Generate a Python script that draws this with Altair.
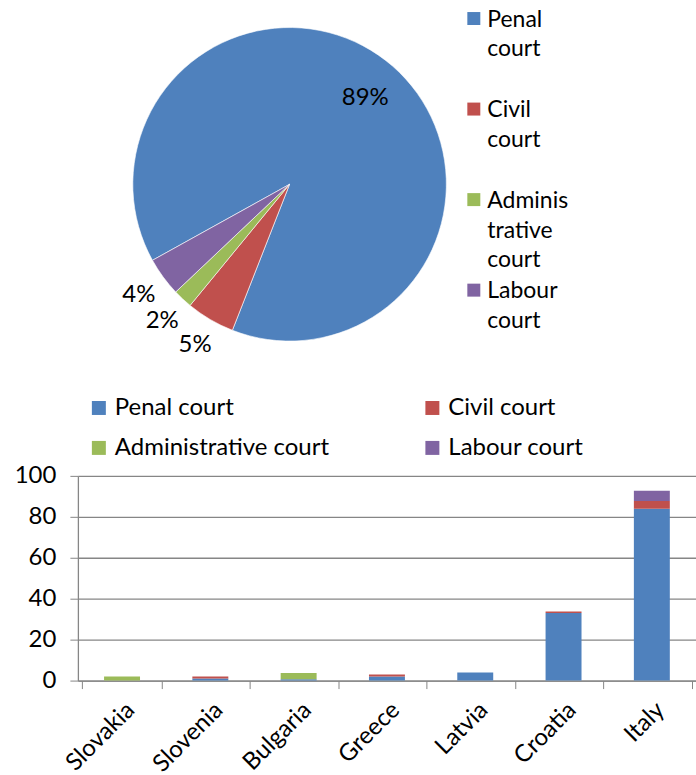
import math
import altair as alt
import pandas as pd

# ---- data ----
categories = ["Penal court", "Civil court", "Administrative court", "Labour court"]
colors = ["#4F81BD", "#C0504D", "#9BBB59", "#8064A2"]
pie_pct = [89, 5, 2, 4]

countries = ["Slovakia", "Slovenia", "Bulgaria", "Greece", "Latvia", "Croatia", "Italy"]
penal = [0, 1, 0.7, 2, 4, 33, 84]
civil = [0, 1, 0, 1, 0, 0.8, 3.7]
admin = [2, 0, 3, 0, 0, 0, 0]
labour = [0, 0, 0, 0, 0, 0, 5]
y_ticks = [0, 20, 40, 60, 80, 100]

FONT = "Lato"
FS = 24
GRAY = "#868686"

pie_df = pd.DataFrame({"court": categories, "pct": pie_pct, "idx": list(range(len(categories)))})
series = [penal, civil, admin, labour]
rows = []
for i, c in enumerate(countries):
    for j, cat in enumerate(categories):
        rows.append({"country": c, "court": cat, "value": series[j][i], "idx": j})
bar_df = pd.DataFrame(rows)

start = math.radians(241)
theta_scale = alt.Scale(range=[start, start + 2 * math.pi])
color_scale = alt.Scale(domain=categories, range=colors)

# ---- pie ----
base = alt.Chart(pie_df).encode(
    theta=alt.Theta("pct:Q", stack=True, scale=theta_scale),
    order=alt.Order("idx:Q", sort="ascending"),
)
arcs = base.mark_arc(outerRadius=157, stroke="white", strokeWidth=0.6).encode(
    color=alt.Color("court:N", scale=color_scale, sort=categories, legend=None)
)
inner_txt = base.transform_calculate(
    t="datum.pct > 50 ? datum.pct + '%' : ''"
).mark_text(radius=115, font=FONT, fontSize=FS, color="black").encode(text="t:N")
outer_txt = base.transform_calculate(
    t="datum.pct > 50 ? '' : datum.pct + '%'"
).mark_text(radius=187, font=FONT, fontSize=FS, color="black").encode(text="t:N")

# pie legend (built from the categories)
leg_y = alt.Y("idx:O", axis=None, scale=alt.Scale(type="point", range=[18, 290], padding=0))
leg_sym = alt.Chart(pie_df).mark_square(size=169, opacity=1).encode(
    x=alt.value(396.5),
    y=leg_y,
    color=alt.Color("court:N", scale=color_scale, sort=categories, legend=None),
)
leg_txt = alt.Chart(pie_df).transform_calculate(
    lines="datum.court == 'Administrative court' ? ['Adminis', 'trative', 'court'] : split(datum.court, ' ')"
).mark_text(
    align="left", baseline="alphabetic", dy=8, lineHeight=30,
    font=FONT, fontSize=FS - 1, color="black"
).encode(x=alt.value(410), y=leg_y, text="lines:N")

pie = alt.layer(arcs, inner_txt, outer_txt, leg_sym, leg_txt).properties(width=424, height=368)

# ---- bars ----
bars = alt.Chart(bar_df).mark_bar(size=36).encode(
    x=alt.X(
        "country:N",
        sort=countries,
        title=None,
        axis=alt.Axis(
            labelAngle=-45,
            labelFont=FONT,
            labelFontSize=FS,
            labelColor="black",
            tickBand="extent",
            tickColor=GRAY,
            tickSize=8,
            domainColor=GRAY,
            domainWidth=1.3,
            labelPadding=9,
        ),
    ),
    y=alt.Y(
        "value:Q",
        stack="zero",
        title=None,
        scale=alt.Scale(domain=[0, 100]),
        axis=alt.Axis(
            values=y_ticks,
            labelFont=FONT,
            labelFontSize=FS,
            labelColor="black",
            tickColor=GRAY,
            tickSize=8,
            domainColor=GRAY,
            domainWidth=1.3,
            gridColor=GRAY,
            gridWidth=1.3,
            labelPadding=14,
        ),
    ),
    color=alt.Color(
        "court:N",
        scale=color_scale,
        sort=categories,
        legend=alt.Legend(
            title=None,
            orient="none",
            direction="horizontal",
            legendX=9,
            legendY=-80,
            columns=2,
            symbolType="square",
            symbolSize=196,
            symbolStrokeWidth=0,
            labelFont=FONT,
            labelFontSize=FS,
            labelColor="black",
            labelOffset=4,
            gridAlign="all",
            columnPadding=91,
            rowPadding=16,
            padding=0,
            labelLimit=400,
        ),
    ),
    order=alt.Order("idx:Q", sort="ascending"),
).properties(width=619, height=205)

chart = (
    alt.vconcat(pie, bars, spacing=28)
    .resolve_scale(color="independent")
    .resolve_legend(color="independent")
    .properties(padding={"left": 14, "top": 0, "right": 0, "bottom": 0}, background="white")
    .configure_view(stroke=None)
)

chart.save("out.html", embed_options={"renderer": "svg", "actions": False})
